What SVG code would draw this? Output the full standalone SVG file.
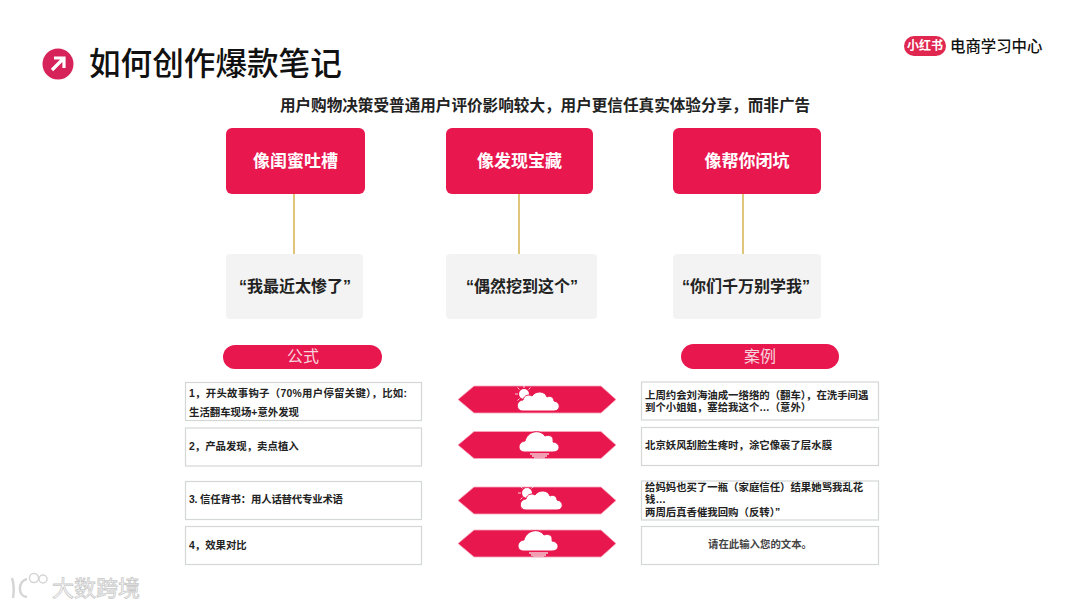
<svg xmlns="http://www.w3.org/2000/svg" width="1080" height="608" viewBox="0 0 1080 608">
<style>
text{font-family:"Liberation Sans","Noto Sans CJK SC",sans-serif;}
.top{fill:#e8184f;}
.q{fill:#f3f3f3;}
.toptext{fill:#fff;font-size:17px;font-weight:700;text-anchor:middle;}
.qtext{fill:#222;font-size:16px;font-weight:700;text-anchor:middle;}
.pill{fill:#e8184f;}
.pilltext{fill:#f7d5de;font-size:16px;text-anchor:middle;}
.box{fill:#fff;stroke:#d3d8d5;stroke-width:1.2;}
.t{fill:#222;font-size:10.4px;font-weight:700;}
.hex{fill:#e8184f;stroke:#f7a8bd;stroke-width:.8;}
.line{stroke:#d9b65c;stroke-width:1.6;fill:none;}
.cloud{fill:#fff;}
.cloud2{fill:#fff;stroke:#e8184f;stroke-width:1;}
.sun{stroke:#fff;stroke-width:.8;fill:none;}
</style>
<defs>
<path id="hexa" d="M0 13.5 L16 0 H143 L158 13.5 L143 27 H16 Z"/>
<g id="suncloud">
<circle cx="-14" cy="-6" r="5" class="cloud"/>
<path class="sun" d="M-14-12V-15M-18.500-10.500L-20.500-12.500M-20-6H-23M-18.500-1.500L-20.500 .5M-9.500-10.500L-7.500-12.500"/>
<path class="cloud2" d="M-15 11C-22 11-23 1-15 0C-14-5-9-6-6-4C-2-10 7-9 9-3C13-5 16-2 16 1C23 2 23 11 16 11Z"/>
</g>
<g id="raincloud">
<path class="cloud" stroke="#e8184f" d="M-15 8C-23 8-23-2-15-3C-13-12-1-16 5-8C10-10 14-7 13-2C21-1 21 8 13 8Z"/>
<path d="M-10 10H9M-8 12H7M-6 14H5" stroke="#f3c9d4" stroke-width="1.300" fill="none"/>
</g>
</defs>
<rect width="1080" height="608" fill="#fff"/>

<g id="title">
<circle cx="58" cy="64" r="15.500" fill="#d6245b"/>
<path d="M52 70L63 59M54 58H64V68" stroke="#fff" stroke-width="3.200" fill="none"/>
<text x="89" y="75" font-size="31.600" fill="#111" font-weight="500">如何创作爆款笔记</text>
</g>
<g id="logo">
<rect x="904" y="36" width="42" height="20" rx="10" fill="#e0274f"/>
<text x="925" y="50" font-size="12" font-weight="700" fill="#fff" text-anchor="middle">小红书</text>
<text x="950" y="52" font-size="15.400" fill="#111" font-weight="500">电商学习中心</text>
</g>
<text id="subtitle" x="545" y="111" font-size="15.600" font-weight="700" fill="#222" text-anchor="middle">用户购物决策受普通用户评价影响较大，用户更信任真实体验分享，而非广告</text>

<g id="connectors">
<line class="line" x1="294" y1="194" x2="294" y2="254"/>
<line class="line" x1="519" y1="194" x2="519" y2="254"/>
<line class="line" x1="743" y1="194" x2="743" y2="254"/>
</g>

<g id="n1"><rect class="top" x="226" y="128" width="139" height="66" rx="6"/><text class="toptext" x="295.500" y="167">像闺蜜吐槽</text></g>
<g id="n2"><rect class="top" x="446" y="128" width="147" height="66" rx="6"/><text class="toptext" x="519.500" y="167">像发现宝藏</text></g>
<g id="n3"><rect class="top" x="673" y="128" width="148" height="66" rx="6"/><text class="toptext" x="747" y="167">像帮你闭坑</text></g>

<g id="q1"><rect class="q" x="226" y="254" width="137" height="65" rx="4"/><text class="qtext" x="295" y="292">“我最近太惨了”</text></g>
<g id="q2"><rect class="q" x="446" y="254" width="151" height="65" rx="4"/><text class="qtext" x="522" y="292">“偶然挖到这个”</text></g>
<g id="q3"><rect class="q" x="673" y="254" width="148" height="65" rx="4"/><text class="qtext" x="746" y="292">“你们千万别学我”</text></g>

<g id="pill1"><rect class="pill" x="223" y="345" width="159" height="24" rx="12"/><text class="pilltext" x="303" y="362">公式</text></g>
<g id="pill2"><rect class="pill" x="681" y="344" width="158" height="25" rx="12.500"/><text class="pilltext" x="760" y="362">案例</text></g>

<g id="f1"><rect class="box" x="185.500" y="382.500" width="236" height="38"/><text class="t" x="189" y="397" textLength="218" lengthAdjust="spacing">1，开头故事钩子（70%用户停留关键），比如:</text><text class="t" x="189" y="416">生活翻车现场+意外发现</text></g>
<g id="f2"><rect class="box" x="185.500" y="428" width="236" height="38"/><text class="t" x="189" y="450">2，产品发现，卖点植入</text></g>
<g id="f3"><rect class="box" x="185.500" y="481.500" width="236" height="38"/><text class="t" x="189" y="503" textLength="154" lengthAdjust="spacing">3. 信任背书：用人话替代专业术语</text></g>
<g id="f4"><rect class="box" x="185.500" y="526.500" width="236" height="38"/><text class="t" x="189" y="549">4，效果对比</text></g>

<g id="h1"><use href="#hexa" class="hex" x="458" y="386"/><use href="#suncloud" x="538" y="400"/></g>
<g id="h2"><use href="#hexa" class="hex" x="458" y="431.500"/><use href="#raincloud" x="540" y="444"/></g>
<g id="h3"><use href="#hexa" class="hex" x="458" y="487"/><use href="#suncloud" x="541" y="499"/></g>
<g id="h4"><use href="#hexa" class="hex" x="458" y="530"/><use href="#raincloud" x="539" y="543"/></g>

<g id="c1"><rect class="box" x="641.500" y="382" width="237" height="38"/><text class="t" x="645" y="399">上周约会刘海油成一绺绺的（翻车），在洗手间遇</text><text class="t" x="645" y="411">到个小姐姐，塞给我这个…（意外）</text></g>
<g id="c2"><rect class="box" x="641.500" y="427.500" width="237" height="38"/><text class="t" x="645" y="449">北京妖风刮脸生疼时，涂它像裹了层水膜</text></g>
<g id="c3"><rect class="box" x="641.500" y="481" width="237" height="39"/><text class="t" x="645" y="491">给妈妈也买了一瓶（家庭信任）结果她骂我乱花</text><text class="t" x="645" y="503">钱…</text><text class="t" x="645" y="516">两周后真香催我回购（反转）”</text></g>
<g id="c4"><rect class="box" x="641.500" y="526.500" width="237" height="38"/><text class="t" x="760" y="548" text-anchor="middle" style="fill:#444">请在此输入您的文本。</text></g>

<g id="watermark">
<text x="52" y="596" font-size="22" fill="#fff" stroke="#c9c9c9" stroke-width=".8">大数跨境</text>
<path d="M12 578C14 584 14 592 13 598M27 579C18 581 17 596 27 597" stroke="#d5d5d5" stroke-width="2.500" fill="none"/>
<circle cx="34" cy="578" r="4.500" stroke="#d5d5d5" stroke-width="1.500" fill="none"/>
<circle cx="43" cy="579" r="4" stroke="#d5d5d5" stroke-width="1.500" fill="none"/>
</g>
</svg>
